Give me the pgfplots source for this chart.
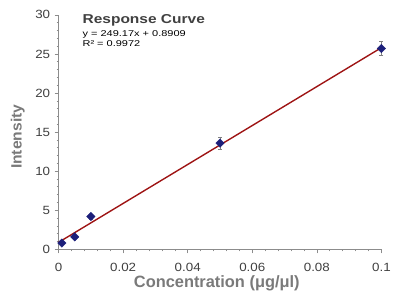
\documentclass[border=0pt]{standalone}
\usepackage{pgfplots}
\pgfplotsset{compat=1.18}
\usepackage{fontspec}
\setmainfont{Liberation Sans}
\newfontfamily\tickfont[FakeStretch=1.12]{Liberation Sans}
\newfontfamily\ylabfont[FakeStretch=1.05]{Liberation Sans}
\newfontfamily\titlefont[FakeStretch=1.2]{Liberation Sans}
\newfontfamily\eqfont[FakeStretch=1.3]{Liberation Sans}
\definecolor{axgray}{HTML}{8C8C8C}
\definecolor{labgray}{HTML}{7A7A7A}
\definecolor{tickcol}{HTML}{404040}
\definecolor{navy}{HTML}{1C1F7A}
\definecolor{fitred}{HTML}{9E1414}
\begin{document}
\begin{tikzpicture}
\begin{axis}[
  scale only axis,
  width=325pt, height=236pt,
  xmin=0, xmax=0.1, ymin=0, ymax=30,
  axis lines=left,
  axis line style={axgray, -},
  xtick={0,0.02,0.04,0.06,0.08,0.1},
  xticklabels={0,0.02,0.04,0.06,0.08,0.1},
  ytick={0,5,10,15,20,25,30},
  minor x tick num=4,
  minor y tick num=4,
  tick align=outside,
  major tick length=4pt,
  minor tick length=2pt,
  tick style={axgray, line width=0.6pt},
  ticklabel style={font=\tickfont\fontsize{12}{13}\selectfont, text=tickcol},
  xticklabel style={yshift=-6pt},
  yticklabel style={xshift=-1pt},
  /pgf/number format/assume math mode=true,
  xlabel={\bfseries\fontsize{16.5}{17}\selectfont Concentration (μg/μl)},
  ylabel={\ylabfont\bfseries\fontsize{15}{16}\selectfont Intensity},
  label style={text=labgray},
  xlabel style={at={(axis description cs:0.49,0)}, anchor=base, yshift=-38.5pt},
  ylabel style={at={(axis description cs:0,0.48)}, anchor=center, yshift=41pt},
  clip=false,
]
\addplot[fitred, line width=1.4pt, no marks] coordinates {(0,0.8909) (0.1,25.8079)};
\addplot[only marks, mark=square*, mark size=3pt, navy, mark options={fill=navy, rotate=45},
  error bars/.cd, y dir=both, y explicit, error mark options={rotate=90, mark size=2pt, gray}, error bar style={gray, line width=0.5pt}]
  coordinates {
  (0.001,0.8) +- (0,0.2)
  (0.005,1.6) +- (0,0.2)
  (0.01,4.2) +- (0,0.3)
  (0.05,13.6) +- (0,0.8)
  (0.1,25.7) +- (0,0.9)
};
\node[anchor=base west, inner sep=0pt, font=\titlefont\bfseries\fontsize{13}{14}\selectfont, text=tickcol] at (axis cs:0.00738,28.86) {Response Curve};
\node[anchor=base west, inner sep=0pt, font=\eqfont\fontsize{8.5}{9}\selectfont, text=black] at (axis cs:0.00738,27.2) {y = 249.17x + 0.8909};
\node[anchor=base west, inner sep=0pt, font=\eqfont\fontsize{8.5}{9}\selectfont, text=black] at (axis cs:0.00738,25.93) {R² = 0.9972};
\end{axis}
\path[use as bounding box] ([shift={(-59pt,-43pt)}]current axis.south west) rectangle ([shift={(10pt,15pt)}]current axis.north east);
\end{tikzpicture}
\end{document}
